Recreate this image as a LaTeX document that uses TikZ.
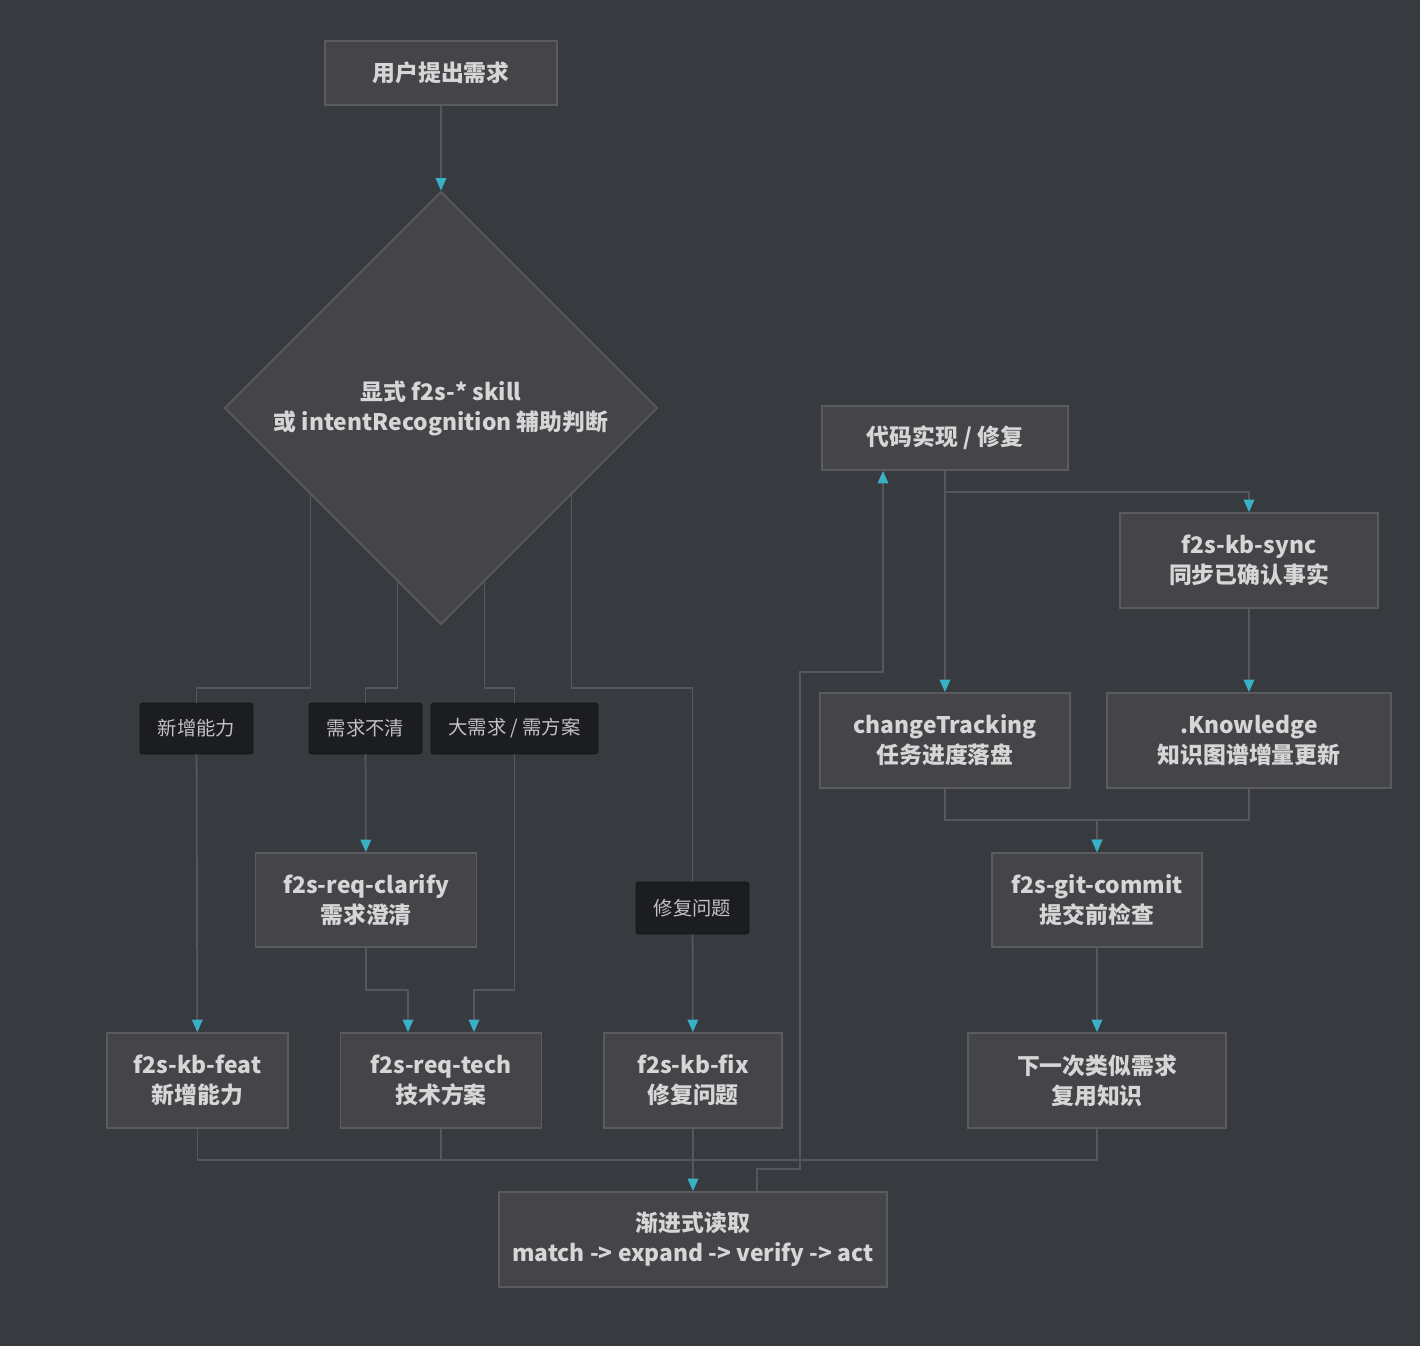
\documentclass[tikz,border=0pt]{standalone}
\usepackage{fontspec}
\setmainfont{Noto Sans CJK SC}
\usetikzlibrary{positioning,arrows.meta,shapes.geometric,calc}
\definecolor{bgc}{HTML}{373A3F}
\definecolor{boxc}{HTML}{454549}
\definecolor{edgec}{HTML}{5A5B5F}
\definecolor{tagc}{HTML}{1B1D21}
\definecolor{linec}{HTML}{55575C}
\definecolor{tipc}{HTML}{3AB0C4}
\definecolor{txtc}{HTML}{D6D6D6}

\begin{document}
\begin{tikzpicture}[
  x=0.02cm, y=-0.02cm,
  box/.style={rectangle,draw=edgec,fill=boxc,line width=1pt,text=txtc,align=center,
              inner sep=0pt,minimum height=1.9cm,font=\bfseries\fontsize{13}{17}\selectfont},
  tag/.style={rectangle,rounded corners=1.5pt,draw=black!30!tagc,fill=tagc,text=txtc!90!black,
              inner sep=0pt,minimum width=2.26cm,minimum height=1.02cm,font=\fontsize{11}{13}\selectfont},
  dia/.style={diamond,aspect=1,draw=edgec,fill=boxc,line width=1pt,text=txtc,align=center,
              inner sep=0pt,minimum size=8.66cm,font=\bfseries\fontsize{13}{17}\selectfont},
  ln/.style={draw=linec,line width=1pt},
  arr/.style={ln,-{Triangle[length=2.5mm,width=2.1mm,color=tipc]}},
]
\fill[bgc] (0,0) rectangle (1420,1346);

% ---------- left side: intake ----------
\node[box,minimum width=4.64cm,minimum height=1.28cm] (ask) at (441,73) {用户提出需求};
\node[dia] (dec) at (441,408) {显式 f2s-* skill\\或 intentRecognition 辅助判断};

\node[tag] (lfeat) at (196.5,728.5) {新增能力};
\node[tag] (lunc) at (365.5,728.5) {需求不清};
\node[tag,minimum width=3.34cm] (lbig) at (514.5,728.5) {大需求 / 需方案};
\node[tag,minimum height=1.04cm] (lfix) at (692.5,908) {修复问题};

\node[box,minimum width=4.42cm,minimum height=1.88cm] (clarify) at (366,900) {f2s-req-clarify\\需求澄清};
\node[box,minimum width=3.62cm] (feat) at (197.5,1080.5) {f2s-kb-feat\\新增能力};
\node[box,minimum width=4.02cm] (tech) at (441,1080.5) {f2s-req-tech\\技术方案};
\node[box,minimum width=3.56cm] (fix) at (693,1080.5) {f2s-kb-fix\\修复问题};
\node[box,minimum width=7.76cm] (read) at (693,1239.5) {渐进式读取\\match -> expand -> verify -> act};

% ---------- right side: implement + knowledge ----------
\node[box,minimum width=4.92cm,minimum height=1.28cm] (code) at (945,438) {代码实现 / 修复};
\node[box,minimum width=5.16cm] (sync) at (1249,560.5) {f2s-kb-sync\\同步已确认事实};
\node[box,minimum width=5cm] (track) at (945,740.5) {changeTracking\\任务进度落盘};
\node[box,minimum width=5.68cm] (know) at (1249,740.5) {.Knowledge\\知识图谱增量更新};
\node[box,minimum width=4.2cm,minimum height=1.88cm] (commit) at (1097,900) {f2s-git-commit\\提交前检查};
\node[box,minimum width=5.16cm] (next) at (1097,1080.5) {下一次类似需求\\复用知识};

\coordinate (fk) at (0,688);
\coordinate (jn) at (0,990);
\coordinate (bus) at (0,1160);
\coordinate (sp) at (0,492);
\coordinate (mg) at (0,820);

% ---------- edges ----------
\draw[arr] (ask) -- (dec);
\draw[ln] ($(dec.west)!0.4!(dec.south)$) |- (lfeat.north|-fk) -- (lfeat);
\draw[ln] ($(dec.west)!0.8!(dec.south)$) |- (lunc.north|-fk) -- (lunc);
\draw[ln] ($(dec.east)!0.8!(dec.south)$) |- (lbig.north|-fk) -- (lbig);
\draw[ln] ($(dec.east)!0.4!(dec.south)$) |- (lfix.north|-fk) -- (lfix);
\draw[arr] (lfeat) -- (feat);
\draw[arr] (lunc) -- (clarify);
\draw[arr] (lbig.south) -- (lbig.south|-jn) -| ([xshift=0.66cm]tech.north);
\draw[arr] (clarify.south) -- (clarify.south|-jn) -| ([xshift=-0.66cm]tech.north);
\draw[arr] (lfix) -- (fix);

\draw[ln] (feat.south) |- (read.north|-bus);
\draw[ln] (tech.south) |- (read.north|-bus);
\draw[ln] (next.south) |- (read.north|-bus);
\draw[arr] (fix) -- (read);

\draw[arr] ([xshift=1.28cm]read.north) -- ++(0,-22) -| (800,672) -| ([xshift=-1.24cm]code.south);
\draw[arr] (code) -- (track);
\draw[arr] (code.south|-sp) -| (sync.north);
\draw[arr] (sync) -- (know);
\draw[arr] (track.south) -- (track.south|-mg) -| (commit.north);
\draw[arr] (know.south) -- (know.south|-mg) -| (commit.north);
\draw[arr] (commit) -- (next);
\end{tikzpicture}
\end{document}
